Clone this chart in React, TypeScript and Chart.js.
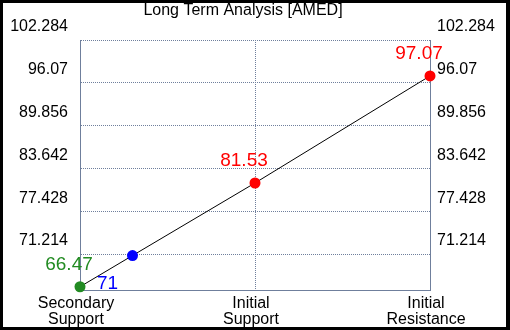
import React, { useEffect, useRef } from "react";
import { Chart, registerables } from "chart.js";

Chart.register(...registerables);

const chartTitle = "Long Term Analysis [AMED]";
const xCategories: string[][] = [
  ["Secondary", "Support"],
  ["Initial", "Support"],
  ["Initial", "Resistance"],
];
// position of each point along the category axis (0 = first category)
const pointPositions = [0, 0.3, 1, 2];
const pointValues = [66.47, 71, 81.53, 97.07];
const pointLabels = ["66.47", "71", "81.53", "97.07"];
const pointColors = ["#228b22", "#0000ff", "#ff0000", "#ff0000"];
const yTickValues = [71.214, 77.428, 83.642, 89.856, 96.07, 102.284];
const yTickLabels = ["71.214", "77.428", "83.642", "89.856", "96.07", "102.284"];
const yMin = 66.0;
const yMax = 102.284;

const FONT = "'Liberation Sans', Arial, Helvetica, sans-serif";
const GRID = "#6f7f9c";

const valueLabelPlugin = {
  id: "valueLabels",
  afterDatasetsDraw(chart: any) {
    const offsets = [
      [-11, -22],
      [-25, 28],
      [-11, -22],
      [-11, -22],
    ];
    const meta = chart.getDatasetMeta(0);
    const ctx = chart.ctx;
    ctx.save();
    ctx.font = `19px ${FONT}`;
    ctx.textAlign = "center";
    ctx.textBaseline = "middle";
    meta.data.forEach((pt: any, i: number) => {
      ctx.fillStyle = pointColors[i];
      ctx.fillText(pointLabels[i], pt.x + offsets[i][0], pt.y + offsets[i][1]);
    });
    ctx.restore();
  },
};

const titlePlugin = {
  id: "customTitle",
  afterDraw(chart: any) {
    const ctx = chart.ctx;
    const ca = chart.chartArea;
    ctx.save();
    ctx.font = `16px ${FONT}`;
    ctx.fillStyle = "#000";
    ctx.textAlign = "center";
    ctx.textBaseline = "alphabetic";
    ctx.fillText(chartTitle, (ca.left + ca.right) / 2 - 12, 12);
    ctx.restore();
  },
};

export default function App() {
  const ref = useRef<HTMLCanvasElement>(null);
  useEffect(() => {
    const canvas = ref.current!;
    Chart.defaults.font.family = FONT;
    const yCommon = {
      type: "linear" as const,
      min: yMin,
      max: yMax,
      afterBuildTicks: (s: any) => {
        s.ticks = yTickValues.map((v) => ({ value: v }));
      },
      ticks: {
        callback: (v: any) => yTickLabels[yTickValues.indexOf(v)],
        labelOffset: -13,
        font: { size: 16 },
        color: "#000",
      },
    };
    const chart = new Chart(canvas, {
      type: "line",
      data: {
        datasets: [
          {
            data: pointPositions.map((x, i) => ({ x, y: pointValues[i] })),
            borderColor: "#000",
            borderWidth: 1,
            pointRadius: 5.5,
            pointHoverRadius: 5.5,
            pointBorderWidth: 0,
            pointBackgroundColor: pointColors,
            pointBorderColor: pointColors,
            clip: false as any,
            tension: 0,
            fill: false,
          },
        ],
      },
      options: {
        responsive: false,
        animation: false,
        events: [],
        layout: { padding: { top: 37, left: 0, right: 0, bottom: 0 } },
        plugins: {
          legend: { display: false },
          title: { display: false },
          tooltip: { enabled: false },
        },
        scales: {
          x: {
            type: "linear",
            min: 0,
            max: 2,
            afterBuildTicks: (s: any) => {
              s.ticks = xCategories.map((_, i) => ({ value: i }));
            },
            afterFit: (s: any) => {
              s.height = 37;
            },
            ticks: {
              callback: (v: any) => xCategories[v as number],
              padding: 6,
              labelOffset: -4,
              maxRotation: 0,
              autoSkip: false,
              font: { size: 16, lineHeight: 1 },
              color: "#000",
            },
            grid: { color: GRID, drawTicks: false, lineWidth: 1 },
            border: { color: GRID, dash: [1, 1], width: 1 },
          },
          y: {
            ...yCommon,
            position: "left",
            afterFit: (s: any) => {
              s.width = 77;
            },
            ticks: { ...yCommon.ticks, padding: 12 },
            grid: { color: GRID, drawTicks: false, lineWidth: 1 },
            border: { color: GRID, dash: [1, 1], width: 1 },
          },
          y2: {
            ...yCommon,
            position: "right",
            afterFit: (s: any) => {
              s.width = 76;
            },
            ticks: { ...yCommon.ticks, padding: 7 },
            grid: { display: false, drawTicks: false },
            border: { color: GRID, width: 1 },
          },
        },
      } as any,
      plugins: [valueLabelPlugin, titlePlugin],
    });
    return () => chart.destroy();
  }, []);

  return (
    <div
      style={{
        position: "fixed",
        left: 0,
        top: 0,
        width: 510,
        height: 330,
        background: "#000",
      }}
    >
      <div
        style={{
          position: "absolute",
          left: 3,
          top: 3,
          width: 503,
          height: 324,
          background: "#fff",
        }}
      >
        <canvas ref={ref} width={503} height={324} style={{ display: "block" }} />
      </div>
    </div>
  );
}
